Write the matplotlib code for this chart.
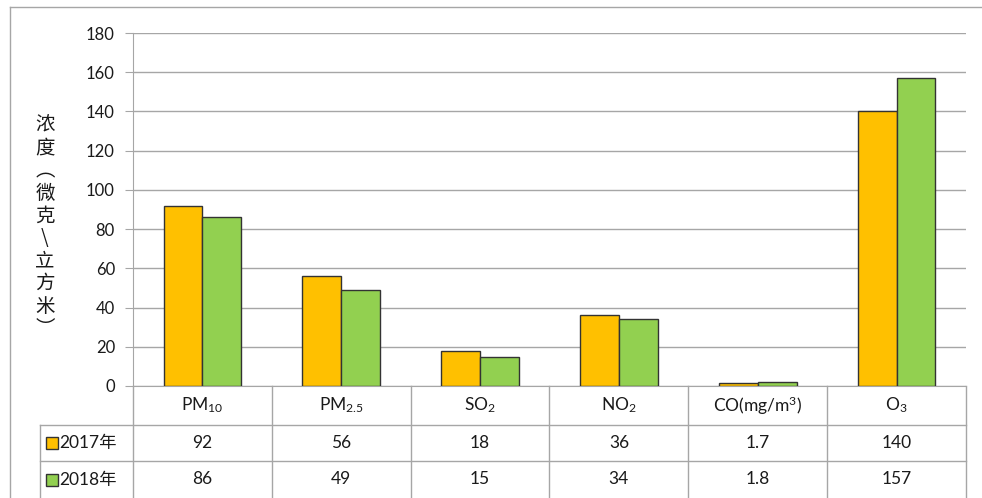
import matplotlib
matplotlib.use('Agg')
import matplotlib.pyplot as plt
import matplotlib.transforms as mtransforms
from matplotlib.lines import Line2D
import numpy as np

plt.rcParams['font.family'] = ['Lato', 'Noto Sans CJK SC', 'DejaVu Sans']
plt.rcParams['mathtext.fontset'] = 'custom'
plt.rcParams['mathtext.rm'] = 'Lato'
plt.rcParams['mathtext.it'] = 'Lato'

# data
categories = ['PM$_{10}$', 'PM$_{2.5}$', 'SO$_2$', 'NO$_2$', 'CO(mg/m$^3$)', 'O$_3$']
series_names = ['2017年', '2018年']
v2017 = [92, 56, 18, 36, 1.7, 140]
v2018 = [86, 49, 15, 34, 1.8, 157]
yticks = [0, 20, 40, 60, 80, 100, 120, 140, 160, 180]
ylabel_chars = ['浓', '度', '︵', '微', '克', '\\', '立', '方', '米', '︶']

c2017 = '#FFC000'
c2018 = '#92D050'
grid_c = '#A6A6A6'
txt_c = '#1a1a1a'

W, H = 982, 498
fig = plt.figure(figsize=(W / 100, H / 100), dpi=100)
# plot area in pixels: x 133..966, y 33..386
ax = fig.add_axes([133 / W, 1 - 386 / H, (966 - 133) / W, (386 - 33) / H])

x = np.arange(len(categories))
bw = 0.28
ax.bar(x - bw / 2, v2017, bw, color=c2017, edgecolor='#333333', linewidth=1, zorder=3)
ax.bar(x + bw / 2, v2018, bw, color=c2018, edgecolor='#333333', linewidth=1, zorder=3)

ax.set_xlim(-0.5, len(categories) - 0.5)
ax.set_ylim(0, 180)
ax.set_yticks(yticks)
ax.set_yticklabels([str(t) for t in yticks], fontsize=12, color=txt_c)
ax.set_xticks([])
ax.yaxis.grid(True, color=grid_c, linewidth=1)
ax.set_axisbelow(True)
for s in ['top', 'right']:
    ax.spines[s].set_visible(False)
ax.spines['left'].set_color(grid_c)
ax.spines['bottom'].set_color(grid_c)
ax.tick_params(axis='y', length=6, color=grid_c, pad=7)

# y label, stacked characters
ax.text(-88 / 833, 0.45, '\n'.join(ylabel_chars), transform=ax.transAxes,
        ha='center', va='center', fontsize=14, linespacing=1.1,
        family=['Noto Sans CJK SC', 'DejaVu Sans'], color=txt_c)

# data table under the plot
ah = 353.0
r1 = -39 / ah    # bottom of header row
r2 = -75 / ah    # bottom of 2017 row
r3 = -112 / ah   # bottom of table
legx = -93 / 833  # left edge of legend column (axes fraction)
bt = mtransforms.blended_transform_factory(ax.transData, ax.transAxes)
lk = dict(color=grid_c, linewidth=1, clip_on=False)

for b in np.arange(len(categories) + 1) - 0.5:
    ax.plot([b, b], [0, r3], transform=bt, **lk)
for y in [r1, r2]:
    ax.plot([legx, 1], [y, y], transform=ax.transAxes, **lk)
ax.plot([legx, legx], [r1, r3], transform=ax.transAxes, **lk)

for i, c in enumerate(categories):
    ax.text(i, r1 / 2, c, transform=bt, ha='center', va='center', fontsize=12.5, color=txt_c)
    ax.text(i, (r1 + r2) / 2, str(v2017[i]), transform=bt, ha='center', va='center',
            fontsize=12.5, color=txt_c)
    ax.text(i, (r2 + r3) / 2, str(v2018[i]), transform=bt, ha='center', va='center',
            fontsize=12.5, color=txt_c)

for yy, name, col in [((r1 + r2) / 2, series_names[0], c2017), ((r2 + r3) / 2, series_names[1], c2018)]:
    ax.plot([-81 / 833], [yy], marker='s', markersize=8, markerfacecolor=col,
            markeredgecolor='#333333', markeredgewidth=1, transform=ax.transAxes, clip_on=False)
    ax.text(-74 / 833, yy, name, transform=ax.transAxes, ha='left', va='center',
            fontsize=12.5, color=txt_c)

# outer chart frame
fig.add_artist(Line2D([10 / W, 1], [1 - 7 / H, 1 - 7 / H], color=grid_c, linewidth=1))
fig.add_artist(Line2D([10 / W, 10 / W], [0, 1 - 7 / H], color=grid_c, linewidth=1))

fig.savefig('out.png', dpi=100)
